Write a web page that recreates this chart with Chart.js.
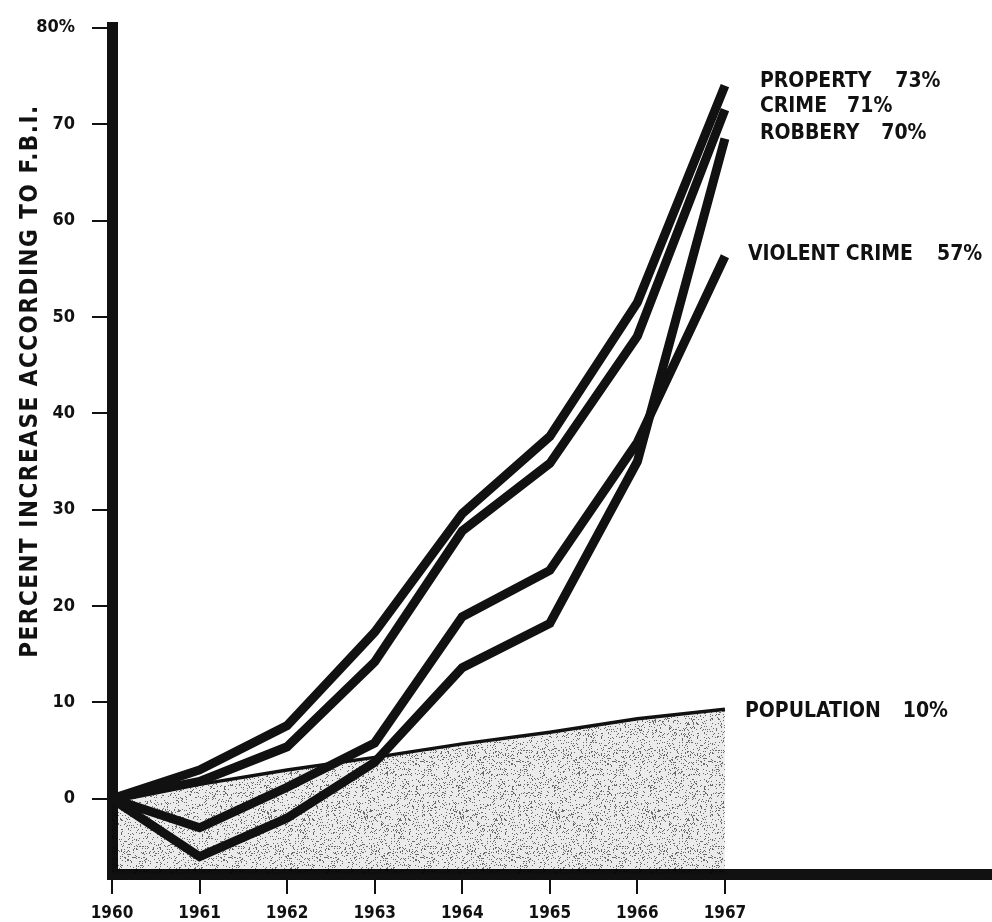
<!DOCTYPE html>
<html>
<head>
<meta charset="utf-8">
<script src="https://cdn.jsdelivr.net/npm/chart.js@4.4.1/dist/chart.umd.min.js"></script>
<style>
  html, body { margin: 0; padding: 0; background: #fff; }
  #wrap { width: 992px; height: 922px; }
</style>
</head>
<body>
<div id="wrap"><canvas id="crimeChart" width="992" height="922"></canvas></div>
<script>
// values
const years = [1960, 1961, 1962, 1963, 1964, 1965, 1966, 1967];
const property = [0, 3.0, 7.6, 17.3, 29.6, 37.6, 51.5, 74.0];
const crime = [0, 1.8, 5.4, 14.2, 27.8, 34.8, 48.0, 71.5];
const robbery = [0, -6.0, -2.0, 3.8, 13.6, 18.2, 35.0, 68.5];
const violent = [0, -3.0, 1.2, 5.8, 18.9, 23.7, 37.0, 56.3];
const population = [0, 1.5, 3.0, 4.3, 5.7, 6.9, 8.3, 9.3];

const yTicks = [0, 10, 20, 30, 40, 50, 60, 70, 80];
const yTickLabels = ['0', '10', '20', '30', '40', '50', '60', '70', '80%'];
const xTicks = [1960, 1961, 1962, 1963, 1964, 1965, 1966, 1967];
const yTitle = 'PERCENT INCREASE ACCORDING TO F.B.I.';

// end labels: [name, percent, series]
const endLabels = [
    ['PROPERTY', '73%', property],
    ['CRIME', '71%', crime],
    ['ROBBERY', '70%', robbery],
    ['VIOLENT CRIME', '57%', violent],
    ['POPULATION', '10%', population]
];

const FONT = "'DejaVu Sans Condensed', 'DejaVu Sans', sans-serif";
const INK = '#111';

function pts(vals) {
    return years.map((y, i) => ({ x: y, y: vals[i] }));
}

// speckled grey for the population area
function speckle() {
    const c = document.createElement('canvas');
    c.width = 96; c.height = 96;
    const g = c.getContext('2d');
    g.fillStyle = 'rgba(0,0,0,0.08)';
    g.fillRect(0, 0, 96, 96);
    for (let y = 0; y < 96; y++) {
        for (let x = 0; x < 96; x++) {
            let h = Math.imul(x, 374761393) + Math.imul(y, 668265263);
            h = Math.imul(h ^ (h >>> 13), 1274126177);
            const r = ((h ^ (h >>> 16)) >>> 0) / 4294967296;
            if (r < 0.14) {
                g.fillStyle = 'rgba(0,0,0,0.55)';
                g.fillRect(x, y, 1, 1);
            }
        }
    }
    return g.createPattern(c, 'repeat');
}

const labelPlugin = {
    id: 'labels',
    afterDraw(chart) {
        const ctx = chart.ctx;
        const xs = chart.scales.x, ys = chart.scales.y;
        ctx.save();
        ctx.fillStyle = INK;
        ctx.textBaseline = 'middle';
        ctx.textAlign = 'left';
        ctx.font = 'bold 21px ' + FONT;
        const x0 = xs.getPixelForValue(1967);
        const dx = [35, 35, 35, 23, 20];
        const dy = [-4, -3, -5, -2, 2];
        const gap = [24, 20, 22, 24, 22];
        endLabels.forEach((l, i) => {
            const v = l[2][l[2].length - 1];
            const y = ys.getPixelForValue(v) + dy[i];
            const x = x0 + dx[i];
            ctx.fillText(l[0], x, y);
            const w = ctx.measureText(l[0]).width;
            ctx.fillText(l[1], x + w + gap[i], y);
        });
        // y axis title
        ctx.translate(31, 381);
        ctx.rotate(-Math.PI / 2);
        ctx.textAlign = 'center';
        ctx.font = 'bold 24px ' + FONT;
        ctx.letterSpacing = '1.5px';
        ctx.fillText(yTitle, 0, 0);
        ctx.restore();
    }
};

const lineStyle = {
    borderColor: INK,
    borderWidth: 9,
    pointRadius: 0,
    fill: false,
    tension: 0,
    borderJoinStyle: 'miter'
};

const ctx = document.getElementById('crimeChart').getContext('2d');
const crimeChart = new Chart(ctx, {
    type: 'line',
    data: {
        datasets: [
            Object.assign({ label: 'Property', data: pts(property) }, lineStyle),
            Object.assign({ label: 'Crime', data: pts(crime) }, lineStyle),
            Object.assign({ label: 'Robbery', data: pts(robbery) }, lineStyle),
            Object.assign({ label: 'Violent crime', data: pts(violent) }, lineStyle),
            {
                label: 'Population',
                data: pts(population),
                borderColor: INK,
                borderWidth: 3.5,
                pointRadius: 0,
                fill: 'start',
                backgroundColor: speckle()
            }
        ]
    },
    options: {
        responsive: false,
        animation: false,
        devicePixelRatio: 1,
        layout: { padding: { top: 26, right: 0, left: 0, bottom: 0 } },
        plugins: {
            legend: { display: false },
            tooltip: { enabled: false }
        },
        scales: {
            x: {
                type: 'linear',
                min: 1960,
                max: 1970.05,
                afterFit: (s) => { s.height = 48; },
                afterBuildTicks: (s) => { s.ticks = xTicks.map(v => ({ value: v })); },
                border: { display: true, color: INK, width: 11 },
                grid: { drawOnChartArea: false, color: INK, lineWidth: 2, tickLength: 20 },
                ticks: {
                    color: INK,
                    padding: 9,
                    maxRotation: 0,
                    font: { family: FONT, size: 17, weight: 'bold' },
                    callback: (v) => String(v)
                }
            },
            y: {
                min: -7.8,
                max: 80,
                afterFit: (s) => { s.width = 112; },
                afterBuildTicks: (s) => { s.ticks = yTicks.map(v => ({ value: v })); },
                border: { display: true, color: INK, width: 11 },
                grid: { drawOnChartArea: false, color: INK, lineWidth: 2, tickLength: 20 },
                ticks: {
                    color: INK,
                    padding: 17,
                    font: { family: FONT, size: 18, weight: 'bold' },
                    callback: (v) => yTickLabels[yTicks.indexOf(v)]
                }
            }
        }
    },
    plugins: [labelPlugin]
});
</script>
</body>
</html>
